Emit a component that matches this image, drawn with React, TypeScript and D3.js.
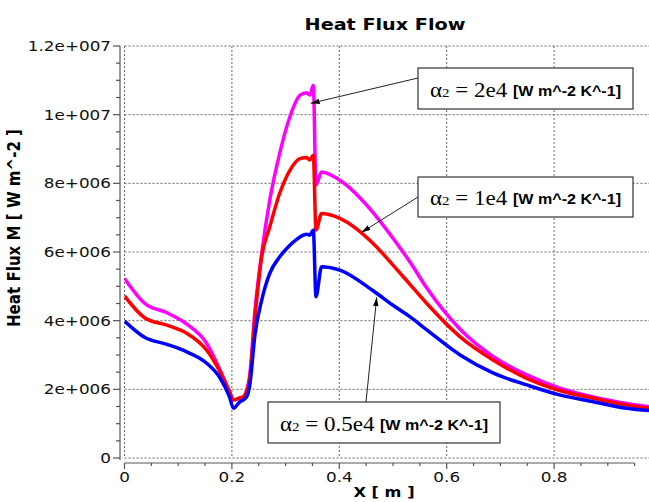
import React from 'react';
import * as d3 from 'd3';

// positions along the plate [m]
const xPos = [
  0, 0.038, 0.079, 0.116, 0.153, 0.178, 0.195, 0.203, 0.215, 0.221, 0.228,
  0.233, 0.243, 0.2555, 0.2705, 0.289, 0.308, 0.327, 0.339, 0.345, 0.3516,
  0.3566, 0.367, 0.401, 0.463, 0.5, 0.532, 0.563, 0.625, 0.687, 0.749, 0.812,
  0.873, 0.935, 0.977,
];

// heat flux [1e6 W m^-2] for the three film coefficients
const flux2e4 = [
  5.23, 4.5, 4.23, 3.9, 3.34, 2.56, 1.95, 1.69, 1.75, 1.78, 2.0, 2.37, 4.31,
  5.96, 7.51, 8.87, 9.94, 10.57, 10.64, 10.57, 10.86, 7.95, 8.33, 8.09, 7.15,
  6.4, 5.7, 4.95, 3.75, 2.95, 2.42, 2.03, 1.78, 1.59, 1.49,
];
const flux1e4 = [
  4.72, 4.08, 3.87, 3.63, 3.14, 2.51, 1.95, 1.69, 1.75, 1.78, 1.95, 2.3, 4.1,
  5.86, 6.73, 7.71, 8.38, 8.72, 8.75, 8.68, 8.82, 6.64, 7.12, 6.98, 6.25, 5.62,
  5.05, 4.5, 3.53, 2.85, 2.32, 1.96, 1.74, 1.54, 1.45,
];
const flux05e4 = [
  3.99, 3.51, 3.31, 3.09, 2.76, 2.33, 1.8, 1.45, 1.64, 1.69, 1.8, 2.1, 3.6,
  4.6, 5.38, 5.86, 6.2, 6.44, 6.52, 6.49, 6.64, 4.7, 5.57, 5.47, 4.87, 4.45,
  4.11, 3.73, 3.0, 2.47, 2.13, 1.83, 1.64, 1.45, 1.38,
];

const xTicks = [0, 0.2, 0.4, 0.6, 0.8];
const xTickLabels = ['0', '0.2', '0.4', '0.6', '0.8'];
const yTicks = [0, 2e6, 4e6, 6e6, 8e6, 1e7, 1.2e7];
const yTickLabels = ['0', '2e+006', '4e+006', '6e+006', '8e+006', '1e+007', '1.2e+007'];

const seriesNames = ['2e4', '1e4', '0.5e4'];
const seriesColors = ['#ff00ff', '#ff0000', '#0000ff'];
// where each note's arrow points (x [m], flux [W m^-2])
const noteTargetX = [0.3467, 0.4413, 0.4697];
const noteTargetY = [10.33e6, 6.57e6, 4.68e6];

const W = 649;
const H = 502;
const SX = 1.2; // picture is stretched sideways
const x = d3.scaleLinear().domain([0, 1]).range([124.5, 661.5]);
const y = d3.scaleLinear().domain([0, 1.2e7]).range([458, 46]);

const boxes = [
  { x: 418, y: 68, w: 215, h: 41, fx: 418, fy: 78 },
  { x: 418, y: 177, w: 215, h: 40, fx: 418, fy: 197 },
  { x: 268, y: 402, w: 232, h: 41, fx: 366, fy: 402 },
];

const sans = 'DejaVu Sans, Verdana, sans-serif';

const App = () => {
  const series = [flux2e4, flux1e4, flux05e4];
  const line = d3
    .line<number>()
    .x((d, i) => x(xPos[i]))
    .y(d => y(d * 1e6))
    .curve(d3.curveMonotoneX);

  const xMinor = d3.range(0, 0.951, 0.05);
  const yMinor = d3.range(0, 1.2e7 + 1, 5e5);

  return (
    <svg
      width={W}
      height={H}
      style={{ position: 'absolute', left: 0, top: 0, background: '#fff' }}
    >
      <defs>
        <clipPath id="plot">
          <rect x={x(0)} y={40} width={W - x(0)} height={425} />
        </clipPath>
        <marker
          id="head"
          viewBox="0 0 10 6"
          refX="10"
          refY="3"
          markerWidth="9"
          markerHeight="6"
          markerUnits="userSpaceOnUse"
          orient="auto"
        >
          <path d="M0,0 L10,3 L0,6 z" fill="#000" />
        </marker>
      </defs>

      {/* grid */}
      <g stroke="#666" strokeWidth={1} strokeDasharray="2,2">
        {xTicks.map(t => (
          <line key={'gx' + t} x1={x(t)} x2={x(t)} y1={y(1.2e7)} y2={y(0)} />
        ))}
        {yTicks.map(t => (
          <line key={'gy' + t} x1={x(0)} x2={W} y1={y(t)} y2={y(t)} />
        ))}
      </g>

      {/* axes */}
      <g stroke="#555" strokeWidth={1.2} fill="none">
        <line x1={120} x2={120} y1={y(1.2e7)} y2={y(0) + 2} />
        {yMinor.map(t => (
          <line
            key={'ty' + t}
            x1={120}
            x2={t % 2e6 === 0 ? 113 : 116}
            y1={y(t)}
            y2={y(t)}
          />
        ))}
        <line x1={x(0)} x2={x(0.95)} y1={463} y2={463} />
        {xMinor.map((t, i) => (
          <line
            key={'tx' + i}
            x1={x(t)}
            x2={x(t)}
            y1={463}
            y2={i % 4 === 0 ? 469 : 466}
          />
        ))}
      </g>

      <g fontFamily={sans} fontSize={14} fill="#111">
        {yTicks.map((t, i) => (
          <text
            key={'ly' + t}
            textAnchor="end"
            transform={`translate(111,${y(t) + 5}) scale(${SX},1)`}
          >
            {yTickLabels[i]}
          </text>
        ))}
        {xTicks.map((t, i) => (
          <text
            key={'lx' + t}
            textAnchor="middle"
            transform={`translate(${x(t)},482) scale(${SX},1)`}
          >
            {xTickLabels[i]}
          </text>
        ))}
      </g>

      <text
        fontFamily={sans}
        fontWeight="bold"
        fontSize={16}
        textAnchor="middle"
        transform={`translate(385,30) scale(${SX},1)`}
      >
        Heat Flux Flow
      </text>
      <text
        fontFamily={sans}
        fontWeight="bold"
        fontSize={13.5}
        textAnchor="middle"
        transform={`translate(384,497) scale(${SX},1)`}
      >
        X [ m ]
      </text>
      <text
        fontFamily={sans}
        fontWeight="bold"
        fontSize={14}
        textAnchor="middle"
        textLength={198}
        lengthAdjust="spacingAndGlyphs"
        transform={`translate(20,228) scale(${SX},1) rotate(-90)`}
      >
        Heat Flux M [ W m^-2 ]
      </text>

      {/* curves */}
      <g clipPath="url(#plot)" fill="none" strokeWidth={3.5} strokeLinejoin="round">
        {series.map((s, i) => (
          <path key={seriesNames[i]} d={line(s) || ''} stroke={seriesColors[i]} />
        ))}
      </g>

      {/* notes */}
      {boxes.map((b, i) => (
        <g key={'note' + i}>
          <line
            x1={b.fx}
            y1={b.fy}
            x2={x(noteTargetX[i])}
            y2={y(noteTargetY[i])}
            stroke="#222"
            strokeWidth={1}
            markerEnd="url(#head)"
          />
          <rect x={b.x} y={b.y} width={b.w} height={b.h} fill="#fff" stroke="#333" strokeWidth={1.2} />
          <text
            fontFamily="Liberation Serif, Times New Roman, serif"
            fontSize={20}
            transform={`translate(${b.x + 12},${b.y + b.h / 2 + 8}) scale(1.15,1)`}
          >
            α<tspan fontSize={13}>2</tspan> = {seriesNames[i]}
          </text>
          <text
            fontFamily="Liberation Sans, Arial, sans-serif"
            fontWeight="bold"
            fontSize={15.5}
            textAnchor="end"
            textLength={108}
            lengthAdjust="spacingAndGlyphs"
            transform={`translate(${b.x + b.w - 12},${b.y + b.h / 2 + 7})`}
          >
            [W m^-2 K^-1]
          </text>
        </g>
      ))}
    </svg>
  );
};

export default App;
